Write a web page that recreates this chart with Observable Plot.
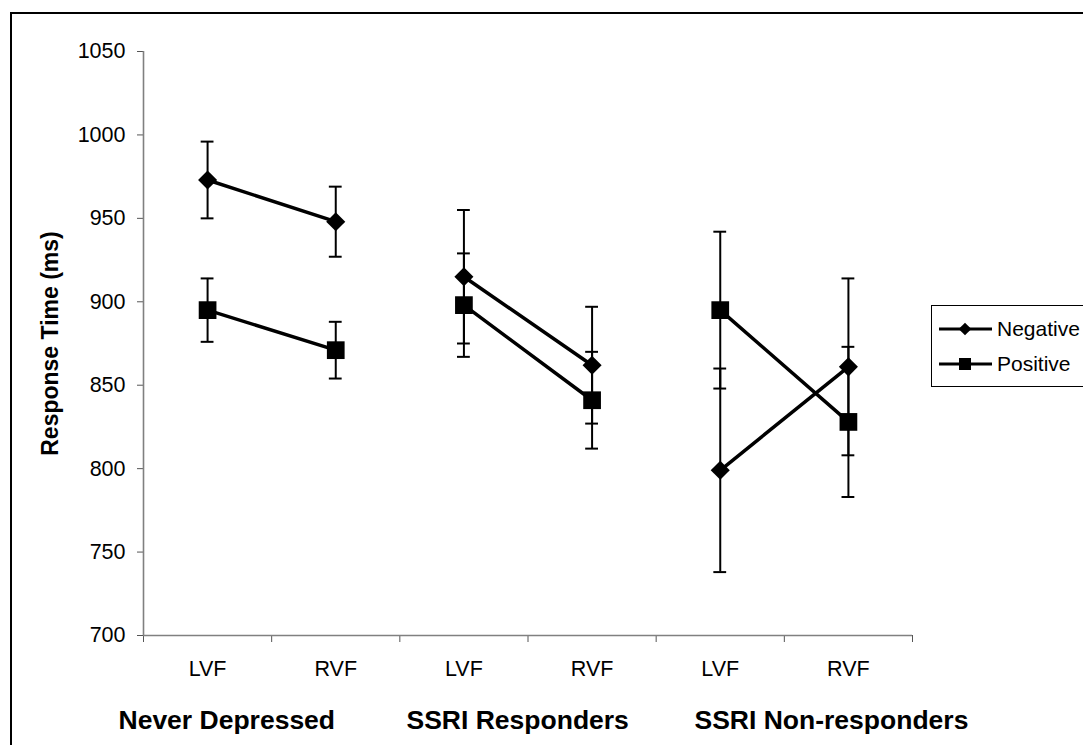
<!DOCTYPE html>
<html>
<head>
<meta charset="utf-8">
<script src="https://cdn.jsdelivr.net/npm/d3@7"></script>
<script src="https://cdn.jsdelivr.net/npm/@observablehq/plot@0.6"></script>
<style>
  html, body { margin: 0; padding: 0; background: #fff; overflow: hidden; }
  body { width: 1083px; height: 745px; position: relative; font-family: "Liberation Sans", Arial, sans-serif; }
  #frame { position: absolute; left: 10px; top: 12px; width: 1100px; height: 760px; border: 2px solid #000; box-sizing: border-box; }
  #chart { position: absolute; left: 0; top: 0; }
  #legend { position: absolute; left: 931px; top: 305px; width: 180px; height: 80px; border: 1px solid #000; background: #fff; }
  #legend .row { position: absolute; left: 7px; display: flex; align-items: center; height: 30px; }
  #legend .row span { font-size: 21px; color: #000; margin-left: 4px; }
</style>
</head>
<body>
<div id="frame"></div>
<div id="chart"></div>
<div id="legend"></div>
<script>
// Visual field categories, grouped by participant group
const categories = ["LVF", "RVF", "LVF", "RVF", "LVF", "RVF"];
const groups = ["Never Depressed", "SSRI Responders", "SSRI Non-responders"];

// Mean response times (ms) and error-bar half widths
const negative    = [973, 948, 915, 862, 799, 861];
const negativeErr = [23, 21, 40, 35, 61, 53];
const positive    = [895, 871, 898, 841, 895, 828];
const positiveErr = [19, 17, 31, 29, 47, 45];

const yTicks = [700, 750, 800, 850, 900, 950, 1000, 1050];
const seriesNames = ["Negative", "Positive"];

// Long-format table for the marks
const rows = [];
categories.forEach((c, i) => {
  const group = groups[Math.floor(i / 2)];
  rows.push({series: "Negative", i, group, mean: negative[i], err: negativeErr[i]});
  rows.push({series: "Positive", i, group, mean: positive[i], err: positiveErr[i]});
});

const X = d => d.i + 0.5;          // category centre on the [0, 6] axis
const capHalf = 0.05;              // error-bar cap half width (axis units)
const font = '"Liberation Sans", Arial, sans-serif';

const chart = Plot.plot({
  width: 1083,
  height: 745,
  marginLeft: 143,
  marginRight: 171,
  marginTop: 51,
  marginBottom: 110,
  style: {fontFamily: font, background: "transparent", overflow: "visible"},
  x: {domain: [0, 6]},
  y: {domain: [700, 1050]},
  marks: [
    // axes
    Plot.axisY({ticks: yTicks, tickFormat: "d", tickSize: 6, tickPadding: 12, fontSize: 21.5, label: null, stroke: "#555", fill: "#000"}),
    Plot.axisX({ticks: d3.range(0, 7), tickSize: 7, tickFormat: () => "", label: null, stroke: "#555"}),
    Plot.ruleX([0], {stroke: "#808080", strokeWidth: 1.6}),
    Plot.ruleY([700], {stroke: "#808080", strokeWidth: 1.6}),
    Plot.text(["Response Time (ms)"], {frameAnchor: "left", dx: -93, rotate: -90, textAnchor: "middle", lineAnchor: "middle", fontSize: 23, fontWeight: "bold", fill: "#000"}),
    Plot.text(categories, {x: (d, i) => i + 0.5, frameAnchor: "bottom", dy: 33.5, lineAnchor: "middle", textAnchor: "middle", fontSize: 21.5, fill: "#000"}),
    Plot.text(groups, {x: (d, i) => -0.195 + i * 2.247, frameAnchor: "bottom", dy: 85.5, lineAnchor: "middle", textAnchor: "start", fontSize: 26.5, fontWeight: "bold", fill: "#000"}),
    // error bars
    Plot.ruleX(rows, {x: X, y1: d => d.mean - d.err, y2: d => d.mean + d.err, stroke: "#000", strokeWidth: 2}),
    Plot.ruleY(rows, {y: d => d.mean + d.err, x1: d => X(d) - capHalf, x2: d => X(d) + capHalf, stroke: "#000", strokeWidth: 2}),
    Plot.ruleY(rows, {y: d => d.mean - d.err, x1: d => X(d) - capHalf, x2: d => X(d) + capHalf, stroke: "#000", strokeWidth: 2}),
    // series lines within each group
    Plot.line(rows, {x: X, y: "mean", z: d => d.series + d.group, stroke: "#000", strokeWidth: 3.5}),
    // markers
    Plot.dot(rows.filter(d => d.series === "Negative"), {x: X, y: "mean", symbol: () => "diamond2", r: 8.6, fill: "#000", stroke: "none"}),
    Plot.dot(rows.filter(d => d.series === "Positive"), {x: X, y: "mean", symbol: () => "square", r: 10, fill: "#000", stroke: "none"})
  ]
});
document.getElementById("chart").appendChild(chart);

// Legend: line + marker swatch for each series
const legend = d3.select("#legend");
seriesNames.forEach((name, k) => {
  const row = legend.append("div").attr("class", "row").style("top", (8 + k * 35) + "px");
  const svg = row.append("svg").attr("width", 54).attr("height", 30);
  svg.append("line").attr("x1", 0).attr("x2", 53).attr("y1", 15).attr("y2", 15)
    .attr("stroke", "#000").attr("stroke-width", 3);
  const sym = name === "Negative"
    ? d3.symbol(d3.symbolDiamond2, Math.PI * 5.7 * 5.7)
    : d3.symbol(d3.symbolSquare, Math.PI * 6.8 * 6.8);
  svg.append("path").attr("d", sym()).attr("transform", "translate(26,15)").attr("fill", "#000");
  row.append("span").text(name);
});
</script>
</body>
</html>
